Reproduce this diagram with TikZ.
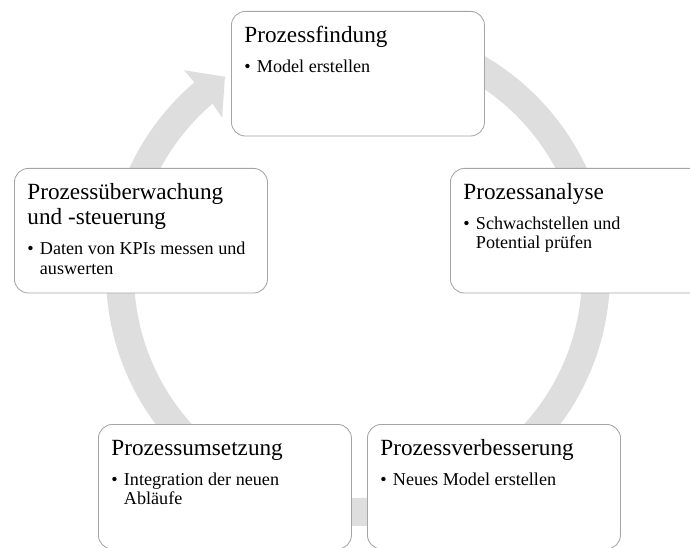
\documentclass[tikz,border=0pt]{standalone}
\usepackage{fontspec}
\setmainfont{Liberation Serif}

\definecolor{ringgray}{RGB}{222,222,222}
\definecolor{edgegray}{RGB}{165,165,165}

% Titel und Stichpunkt einer Phase
\newcommand{\stagetext}[2]{%
  \parbox[t][68.6pt][t]{5.675cm}{\raggedright
    \fontsize{16.5}{18}\selectfont\rule{0pt}{12pt}#1\par
    \vspace{7.3pt}%
    \fontsize{12.9}{14}\selectfont\leftskip=8.9pt
    \noindent\llap{\makebox[8.9pt][l]{\textbullet}}#2\par}}

\begin{document}
\begin{tikzpicture}[x=0.025cm, y=0.025cm,
  stage/.style={draw=edgegray, line width=0.6pt, fill=white, rounded corners=0.35cm,
    inner xsep=0.325cm, inner ysep=10pt, anchor=north west}]
\useasboundingbox (0,0) rectangle (690,547);

% Kreispfeil
\begin{scope}[shift={(358,273)}]
\fill[ringgray] (90:252) arc[start angle=90, end angle=-229.5, radius=252]
  -- (130.5:268) -- (124:238) -- (131:207) -- (130.5:224)
  arc[start angle=-229.5, end angle=90, radius=224] -- cycle;
\end{scope}

% Phasen
\node[stage] (findung) at (231,536) {\stagetext{Prozessfindung}{Model erstellen}};
\node[stage] (analyse) at (450,379) {\stagetext{Prozessanalyse}{Schwachstellen und\\ Potential prüfen}};
\node[stage] (verbesserung) at (367,123) {\stagetext{Prozessverbesserung}{Neues Model erstellen}};
\node[stage] (umsetzung) at (98,123) {\stagetext{Prozessumsetzung}{Integration der neuen\\ Abläufe}};
\node[stage] (ueberwachung) at (14,379) {\stagetext{Prozessüberwachung\\ und -steuerung}{Daten von KPIs messen und\\ auswerten}};
\end{tikzpicture}
\end{document}
